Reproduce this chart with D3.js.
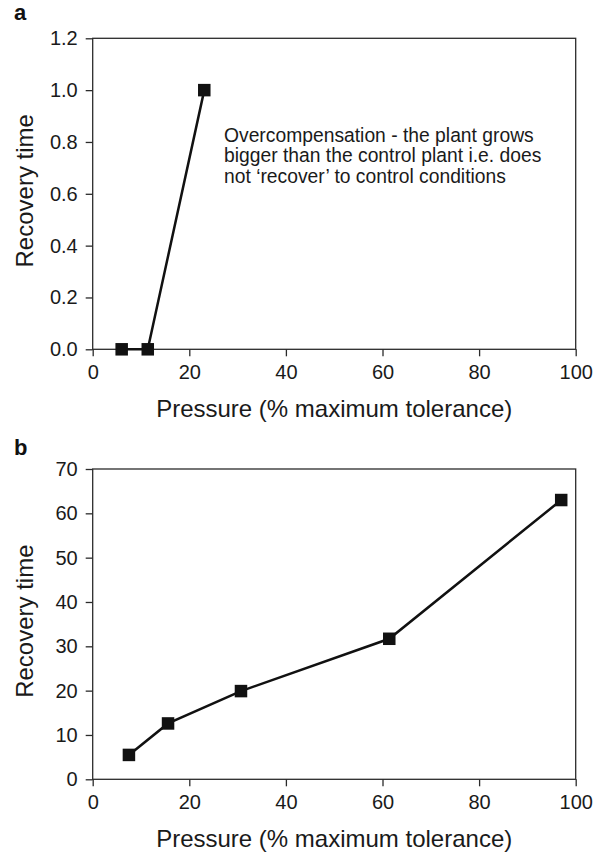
<!DOCTYPE html>
<html>
<head>
<meta charset="utf-8">
<script src="https://cdn.jsdelivr.net/npm/d3@7/dist/d3.min.js"></script>
<style>
  html, body { margin: 0; padding: 0; background: #fff; }
  svg { display: block; font-family: "Liberation Sans", Arial, Helvetica, sans-serif; }
  .axis path, .axis line { stroke: #2b2b2b; stroke-width: 1.3px; }
  .axis text { fill: #1a1a1a; font-size: 20px; }
</style>
</head>
<body>
<svg id="chart" width="596" height="854"></svg>
<script>
// Panel a: recovery time (dimensionless) vs pressure
const pressureA = [6.0, 11.4, 23.1];
const recoveryA = [0.0, 0.0, 1.0];
const yTicksA = [0, 0.2, 0.4, 0.6, 0.8, 1.0, 1.2];

// Panel b: recovery time vs pressure
const pressureB = [7.5, 15.6, 30.7, 61.4, 97.0];
const recoveryB = [5.5, 12.6, 19.9, 31.7, 63.0];
const yTicksB = [0, 10, 20, 30, 40, 50, 60, 70];

const xTicks = [0, 20, 40, 60, 80, 100];
const xTitle = "Pressure (% maximum tolerance)";
const yTitle = "Recovery time";
const noteLines = [
  "Overcompensation - the plant grows",
  "bigger than the control plant i.e. does",
  "not \u2018recover\u2019 to control conditions"
];

const svg = d3.select("#chart");
const left = 92.7, right = 575.7;

function panel(opts) {
  const { top, bottom, xs, ys, yMax, yTicks, yFmt, letter, letterY } = opts;
  const x = d3.scaleLinear().domain([0, 100]).range([left, right]);
  const y = d3.scaleLinear().domain([0, yMax]).range([bottom, top]);
  const g = svg.append("g");

  // plot frame
  g.append("rect")
    .attr("x", left).attr("y", top)
    .attr("width", right - left).attr("height", bottom - top)
    .attr("fill", "none").attr("stroke", "#2b2b2b").attr("stroke-width", 1.3);

  g.append("g").attr("class", "axis")
    .attr("transform", `translate(0,${bottom})`)
    .call(d3.axisBottom(x).tickValues(xTicks).tickSize(7).tickPadding(9).tickSizeOuter(0))
    .call(s => s.select(".domain").remove());

  g.append("g").attr("class", "axis")
    .attr("transform", `translate(${left},0)`)
    .call(d3.axisLeft(y).tickValues(yTicks).tickFormat(yFmt).tickSize(7).tickPadding(8).tickSizeOuter(0))
    .call(s => s.select(".domain").remove());

  // series line and square markers
  const pts = xs.map((v, i) => [v, ys[i]]);
  g.append("path")
    .datum(pts)
    .attr("fill", "none").attr("stroke", "#111").attr("stroke-width", 2.5)
    .attr("d", d3.line().x(d => x(d[0])).y(d => y(d[1])));

  const sz = 12.5;
  g.selectAll("rect.pt").data(pts).join("rect")
    .attr("class", "pt")
    .attr("x", d => x(d[0]) - sz / 2).attr("y", d => y(d[1]) - sz / 2)
    .attr("width", sz).attr("height", sz)
    .attr("fill", "#111");

  // axis titles
  g.append("text")
    .attr("x", (left + right) / 2).attr("y", bottom + 68)
    .attr("text-anchor", "middle").attr("font-size", 24).attr("fill", "#1a1a1a")
    .text(xTitle);

  g.append("text")
    .attr("transform", `translate(33,${(top + bottom) / 2 - 3}) rotate(-90)`)
    .attr("text-anchor", "middle").attr("font-size", 24).attr("fill", "#1a1a1a")
    .text(yTitle);

  // panel letter
  g.append("text")
    .attr("x", 14).attr("y", letterY)
    .attr("font-size", 22).attr("font-weight", "bold").attr("fill", "#111")
    .text(letter);

  return { g, x, y };
}

const pa = panel({
  top: 38.3, bottom: 349.3, xs: pressureA, ys: recoveryA, yMax: 1.2,
  yTicks: yTicksA, yFmt: d3.format(".1f"), letter: "a", letterY: 20
});

panel({
  top: 469, bottom: 779.3, xs: pressureB, ys: recoveryB, yMax: 70,
  yTicks: yTicksB, yFmt: d3.format("d"), letter: "b", letterY: 455
});

// annotation in panel a
pa.g.append("text")
  .attr("x", 224).attr("y", 141.5)
  .attr("font-size", 19.3).attr("fill", "#1a1a1a")
  .selectAll("tspan").data(noteLines).join("tspan")
  .attr("x", 224).attr("dy", (d, i) => i === 0 ? 0 : 20.7)
  .text(d => d);
</script>
</body>
</html>
